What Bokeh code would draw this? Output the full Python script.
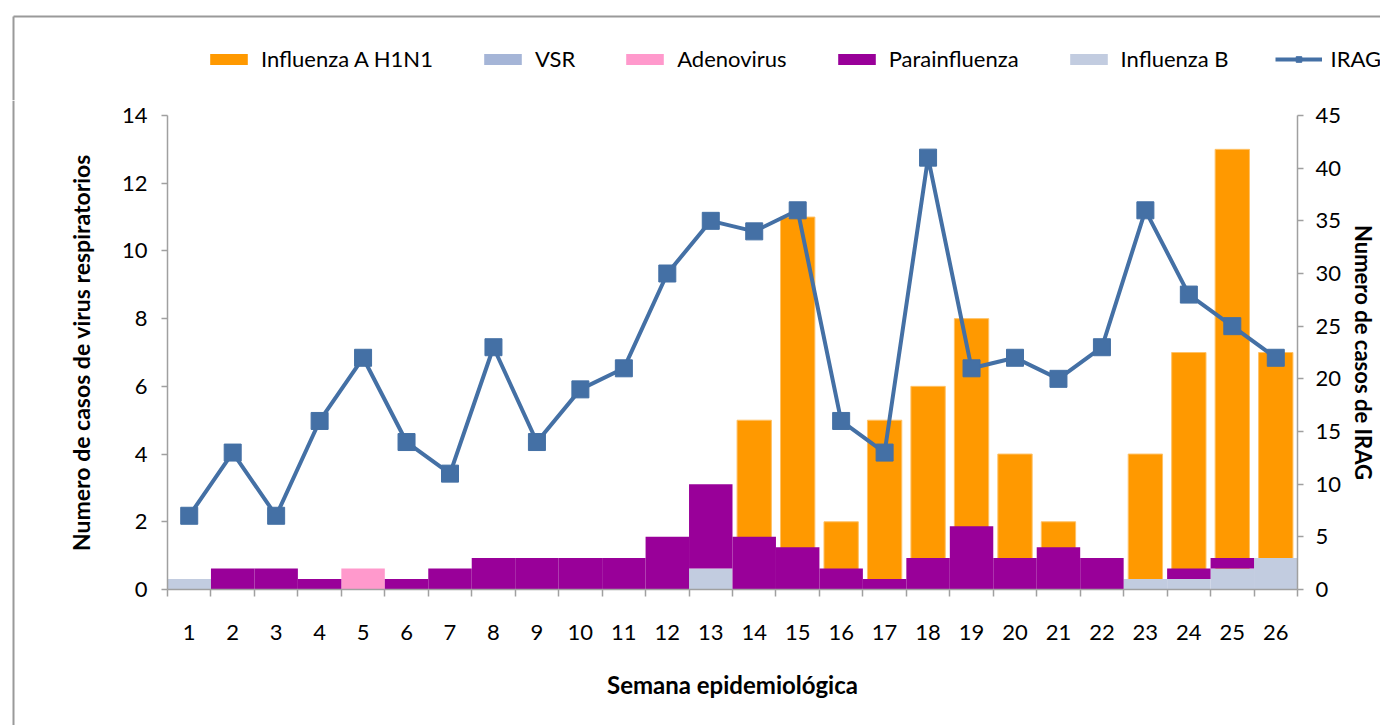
from bokeh.plotting import figure
from bokeh.models import (Range1d, LinearAxis, FixedTicker, Legend, LegendItem,
                          ColumnDataSource)
from bokeh.layouts import column, row
from bokeh.embed import file_html
from bokeh.resources import INLINE

# ---------------- data ----------------
weeks = [1, 2, 3, 4, 5, 6, 7, 8, 9, 10, 11, 12, 13, 14, 15, 16, 17, 18, 19, 20, 21, 22, 23, 24, 25, 26]
week_labels = ["1", "2", "3", "4", "5", "6", "7", "8", "9", "10", "11", "12", "13",
               "14", "15", "16", "17", "18", "19", "20", "21", "22", "23", "24", "25", "26"]
# primary axis (left)
influenza_a_h1n1 = [0, 0, 0, 0, 0, 0, 0, 0, 0, 0, 0, 0, 0, 5, 11, 2, 5, 6, 8, 4, 2, 0, 4, 7, 13, 7]
# secondary axis (right), stacked
influenza_b = [1, 0, 0, 0, 0, 0, 0, 0, 0, 0, 0, 0, 2, 0, 0, 0, 0, 0, 0, 0, 0, 0, 1, 1, 2, 3]
vsr = [0, 0, 0, 0, 0, 0, 0, 0, 0, 0, 0, 0, 0, 0, 0, 0, 0, 0, 0, 0, 0, 0, 0, 0, 0, 0]
adenovirus = [0, 0, 0, 0, 2, 0, 0, 0, 0, 0, 0, 0, 0, 0, 0, 0, 0, 0, 0, 0, 0, 0, 0, 0, 0, 0]
parainfluenza = [0, 2, 2, 1, 0, 1, 2, 3, 3, 3, 3, 5, 8, 5, 4, 2, 1, 3, 6, 3, 4, 3, 0, 1, 1, 0]
irag = [7, 13, 7, 16, 22, 14, 11, 23, 14, 19, 21, 30, 35, 34, 36, 16, 13, 41, 21, 22, 20, 23, 36, 28, 25, 22]

series_names = ["Influenza A H1N1", "VSR", "Adenovirus", "Parainfluenza", "Influenza B", "IRAG"]
left_ticks = [0, 2, 4, 6, 8, 10, 12, 14]
right_ticks = [0, 5, 10, 15, 20, 25, 30, 35, 40, 45]

C_H1N1 = "#ff9900"
C_VSR = "#a5b5d7"
C_ADENO = "#ff99cc"
C_PARA = "#990099"
C_INFB = "#c2cce0"
C_IRAG = "#4470a5"
AXIS = "#a0a0a0"
BORDER = "#9a9a9a"
FONT = "Lato"

W, H = 1380, 725
TOP_H = 100          # legend strip height
STRIP_W = 20         # left strip carrying the outer border line
FL, FR, FT, FB = 167, 1297, 115, 589   # plot frame in page pixels

src = ColumnDataSource(dict(week=weeks, h1n1=influenza_a_h1n1, infb=influenza_b, vsr=vsr,
                            adeno=adenovirus, para=parainfluenza, irag=irag))


def blank_fig(w, h):
    f = figure(width=w, height=h, output_backend="svg", toolbar_location=None,
               x_range=Range1d(0, w), y_range=Range1d(h, 0),
               x_axis_location=None, y_axis_location=None, min_border=0)
    f.grid.visible = False
    f.outline_line_color = None
    f.background_fill_color = "white"
    f.border_fill_color = "white"
    f.frame_align = False
    return f


# ---------------- top strip: legend + outer border ----------------
top = blank_fig(W, TOP_H)
top.segment(x0=[13, 13], y0=[16, 16], x1=[W, 13], y1=[16, TOP_H],
            line_color=BORDER, line_width=2)
# legend swatches (placed off-view so only the legend shows them)
swatch = ColumnDataSource(dict(x=[-1000, -990], y=[-1000, -1000], top=[-1000, -1000]))
d_h1n1 = top.vbar(x="x", top="top", width=1, source=swatch, fill_color=C_H1N1, line_color=None)
d_vsr = top.vbar(x="x", top="top", width=1, source=swatch, fill_color=C_VSR, line_color=None)
d_adeno = top.vbar(x="x", top="top", width=1, source=swatch, fill_color=C_ADENO, line_color=None)
d_para = top.vbar(x="x", top="top", width=1, source=swatch, fill_color=C_PARA, line_color=None)
d_infb = top.vbar(x="x", top="top", width=1, source=swatch, fill_color=C_INFB, line_color=None)
d_line = top.line(x="x", y="y", source=swatch, line_color=C_IRAG, line_width=4)
d_pts = top.scatter(x="x", y="y", source=swatch, marker="square", size=15,
                    fill_color=C_IRAG, line_color=C_IRAG)
legend = Legend(items=[
    LegendItem(label=series_names[0], renderers=[d_h1n1]),
    LegendItem(label=series_names[1], renderers=[d_vsr]),
    LegendItem(label=series_names[2], renderers=[d_adeno]),
    LegendItem(label=series_names[3], renderers=[d_para]),
    LegendItem(label=series_names[4], renderers=[d_infb]),
    LegendItem(label=series_names[5], renderers=[d_line, d_pts]),
], orientation="horizontal", location=(205, 28))
legend.label_text_font = FONT
legend.label_text_font_size = "22px"
legend.label_text_color = "black"
legend.glyph_width = 47
legend.glyph_height = 14
legend.spacing = 46
legend.label_standoff = 9
legend.padding = 0
legend.margin = 0
legend.border_line_color = None
legend.background_fill_alpha = 0
top.add_layout(legend, "center")

# ---------------- left strip: outer border line ----------------
MAIN_H = H - TOP_H
strip = blank_fig(STRIP_W, MAIN_H)
strip.segment(x0=[13], y0=[0], x1=[13], y1=[MAIN_H], line_color=BORDER, line_width=2)

# ---------------- main chart ----------------
MAIN_W = W - STRIP_W
p = figure(width=MAIN_W, height=MAIN_H, output_backend="svg", toolbar_location=None,
           x_range=Range1d(0.5, 26.5), y_range=Range1d(0, 14),
           min_border_left=FL - STRIP_W, min_border_right=W - FR,
           min_border_top=FT - TOP_H, min_border_bottom=H - FB,
           x_axis_label="Semana epidemiológica",
           y_axis_label="Numero de casos de virus respiratorios")
p.frame_align = False
p.extra_y_ranges = {"right": Range1d(0, 45)}
p.grid.visible = False
p.outline_line_color = None
p.background_fill_color = "white"
p.border_fill_color = "white"

# bars on primary axis
p.vbar(x="week", top="h1n1", width=0.79, source=src, fill_color=C_H1N1,
       line_color="#ffc266", line_width=1)

# stacked bars on secondary axis
p.vbar_stack(["infb", "vsr", "adeno", "para"], x="week", width=1.0, source=src,
             y_range_name="right",
             fill_color=[C_INFB, C_VSR, C_ADENO, C_PARA], line_color=None)

# IRAG line
p.line(x="week", y="irag", source=src, y_range_name="right",
       line_color=C_IRAG, line_width=4)
p.scatter(x="week", y="irag", source=src, y_range_name="right", marker="square",
          size=17, fill_color=C_IRAG, line_color=C_IRAG)

# axes
xa = p.xaxis[0]
xa.ticker = FixedTicker(ticks=weeks, minor_ticks=[w - 0.5 for w in weeks] + [26.5])
xa.major_label_overrides = {w: l for w, l in zip(weeks, week_labels)}
xa.major_tick_out = 0
xa.major_tick_in = 0
xa.minor_tick_out = 7
xa.minor_tick_in = 0
xa.minor_tick_line_color = AXIS
xa.minor_tick_line_width = 1.5
xa.axis_line_color = AXIS
xa.axis_line_width = 1.5
xa.major_label_standoff = 28
xa.major_label_text_font = FONT
xa.major_label_text_font_size = "22px"
xa.major_label_text_color = "black"
xa.axis_label_standoff = 27
xa.axis_label_text_font = FONT
xa.axis_label_text_font_style = "bold"
xa.axis_label_text_font_size = "24px"
xa.axis_label_text_color = "black"

ya = p.yaxis[0]
ya.ticker = FixedTicker(ticks=left_ticks)
ya.minor_tick_line_color = None
ya.major_tick_out = 6
ya.major_tick_in = 0
ya.major_tick_line_color = AXIS
ya.major_tick_line_width = 1.5
ya.axis_line_color = AXIS
ya.axis_line_width = 1.5
ya.major_label_standoff = 14
ya.major_label_text_font = FONT
ya.major_label_text_font_size = "22px"
ya.major_label_text_color = "black"
ya.axis_label_standoff = 24
ya.axis_label_text_font = FONT
ya.axis_label_text_font_style = "bold"
ya.axis_label_text_font_size = "23px"
ya.axis_label_text_color = "black"

ra = LinearAxis(y_range_name="right", ticker=FixedTicker(ticks=right_ticks),
                axis_label="Numero de casos de IRAG")
ra.minor_tick_line_color = None
ra.major_tick_out = 6
ra.major_tick_in = 0
ra.major_tick_line_color = AXIS
ra.major_tick_line_width = 1.5
ra.axis_line_color = AXIS
ra.axis_line_width = 1.5
ra.major_label_standoff = 12
ra.major_label_text_font = FONT
ra.major_label_text_font_size = "22px"
ra.major_label_text_color = "black"
ra.axis_label_orientation = "parallel"
ra.axis_label_standoff = 6
ra.axis_label_text_font = FONT
ra.axis_label_text_font_style = "bold"
ra.axis_label_text_font_size = "22px"
ra.axis_label_text_color = "black"
p.add_layout(ra, "right")

layout = column(top, row(strip, p))
open("out.html", "w").write(file_html(layout, INLINE))
